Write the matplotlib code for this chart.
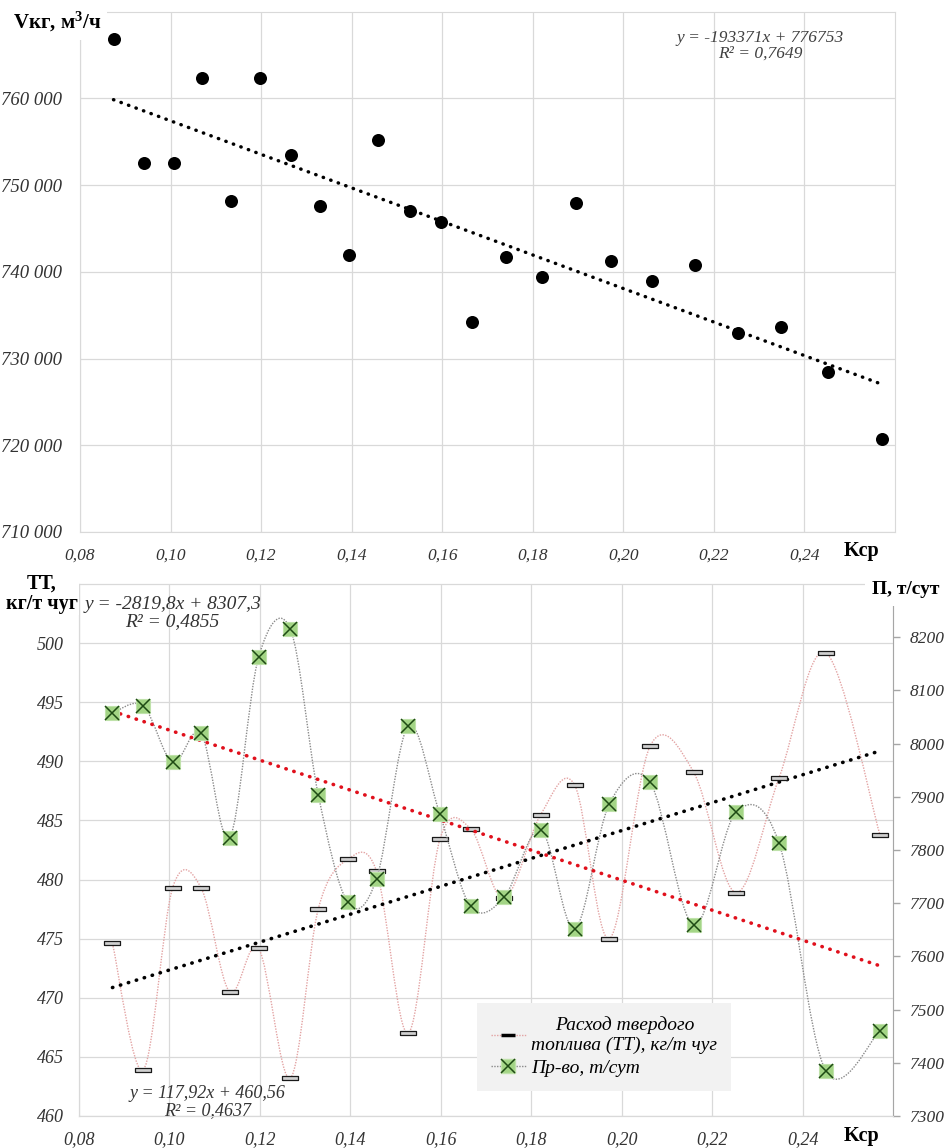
import numpy as np
import matplotlib.pyplot as plt
from matplotlib.path import Path
from matplotlib.patches import PathPatch
from matplotlib.lines import Line2D

plt.rcParams['font.family'] = ['Liberation Serif', 'DejaVu Sans']
plt.rcParams['mathtext.fontset'] = 'custom'
plt.rcParams['mathtext.bf'] = 'Liberation Serif:bold'
plt.rcParams['mathtext.rm'] = 'Liberation Serif'
plt.rcParams['mathtext.default'] = 'bf'

# ---- data ----
k_sr = [0.0874, 0.0942, 0.1007, 0.1070, 0.1133, 0.1197, 0.1267, 0.1329, 0.1394, 0.1458,
        0.1528, 0.1598, 0.1666, 0.1740, 0.1821, 0.1896, 0.1973, 0.2063, 0.2159, 0.2253,
        0.2348, 0.2451, 0.2571]
v_kg = [766900, 752600, 752600, 762300, 748200, 762300, 753500, 747600, 741900, 755200,
        747000, 745800, 734200, 741700, 739400, 747900, 741200, 738900, 740800, 732900,
        733600, 728500, 720700]
tt = [474.6, 463.9, 479.3, 479.3, 470.5, 474.2, 463.2, 477.5, 481.7, 480.7, 467.0, 483.4,
      484.3, 478.4, 485.5, 488.0, 475.0, 491.3, 489.1, 478.9, 488.6, 499.2, 483.8]
prod = [8057, 8071, 7965, 8019, 7823, 8162, 8216, 7904, 7702, 7746, 8033, 7867, 7694,
        7711, 7838, 7652, 7887, 7927, 7659, 7871, 7813, 7385, 7460]

# trend equations shown on the chart
v_trend = (-193371, 776753)
tt_trend = (117.92, 460.56)
prod_trend = (-2819.8, 8307.3)

x_ticks = [0.08, 0.10, 0.12, 0.14, 0.16, 0.18, 0.20, 0.22, 0.24]
v_ticks = [710000, 720000, 730000, 740000, 750000, 760000]
tt_ticks = [460, 465, 470, 475, 480, 485, 490, 495, 500]
prod_ticks = [7300, 7400, 7500, 7600, 7700, 7800, 7900, 8000, 8100, 8200]

W, H = 947, 1148
fig = plt.figure(figsize=(W / 100, H / 100), dpi=100)


def box(x0, y0, x1, y1):
    return [x0 / W, 1 - y1 / H, (x1 - x0) / W, (y1 - y0) / H]


def smooth_path(xs, ys):
    # excel-like smoothed line as cubic bezier segments
    p = np.column_stack([xs, ys])
    ext = np.vstack([p[0], p, p[-1]])
    verts = [p[0]]
    codes = [Path.MOVETO]
    for i in range(len(p) - 1):
        c1 = p[i] + (ext[i + 2] - ext[i]) / 6
        c2 = p[i + 1] - (ext[i + 3] - ext[i + 1]) / 6
        verts += [c1, c2, p[i + 1]]
        codes += [Path.CURVE4] * 3
    return Path(verts, codes)


grid_c = '#d9d9d9'
lab_c = '#333333'
dots = (0, (0.1, 2.2))
xrange_ = np.array([min(k_sr), max(k_sr)])
comma = lambda v, n: f"{v:.{n}f}".replace('.', ',')

# ---------------- top chart ----------------
ax = fig.add_axes(box(80, 11.7, 895, 532))
ax.scatter(k_sr, v_kg, s=88, color='black', zorder=3, linewidths=0)
ax.plot(xrange_, np.polyval(v_trend, xrange_), color='black', lw=2.5,
        linestyle=dots, dash_capstyle='round', zorder=2)
ax.set_xlim(0.08, 0.26)
ax.set_ylim(710000, 770000)
ax.set_xticks(x_ticks)
ax.set_xticklabels([comma(t, 2) for t in x_ticks], fontsize=12.5, style='italic', color=lab_c)
ax.set_yticks(v_ticks)
ax.set_yticklabels([f"{v:,}".replace(',', ' ') for v in v_ticks],
                   fontsize=13.5, style='italic', color=lab_c)
ax.tick_params(length=0, pad=11)
ax.tick_params(axis='y', pad=13)
ax.grid(color=grid_c, lw=0.9)
for s in ax.spines.values():
    s.set_color(grid_c)
ax.text(0.835, 0.965, "y = -193371x + 776753\nR² = 0,7649", transform=ax.transAxes,
        ha='center', va='top', fontsize=12.5, style='italic', color='#404040', linespacing=1.0)

fig.text(13 / W, 1 - 22 / H, "Vкг, м$^{3}$/ч", fontsize=15, fontweight='bold', va='center',
         ha='left', bbox=dict(facecolor='white', edgecolor='none', pad=4))
fig.text(862 / W, 1 - 551 / H, "Kср", fontsize=14.5, fontweight='bold', va='center', ha='center')

# ---------------- bottom chart ----------------
ax1 = fig.add_axes(box(79, 584, 893, 1116))
ax2 = ax1.twinx()

tt_color = '#e3a3a3'
pr_color = '#8a8a8a'
tt_marker = [(-1, -0.2), (1, -0.2), (1, 0.2), (-1, 0.2), (-1, -0.2)]

ax1.add_patch(PathPatch(smooth_path(k_sr, tt), facecolor='none', edgecolor=tt_color,
                        lw=1.0, linestyle=(0, (1, 1)), zorder=2))
ax1.plot(k_sr, tt, linestyle='none', marker=tt_marker, ms=11, mfc='#d0d0d0',
         mec='#1a1a1a', mew=0.9, zorder=4)
ax1.plot(xrange_, np.polyval(tt_trend, xrange_), color='black', lw=2.6,
         linestyle=dots, dash_capstyle='round', zorder=3)

ax2.add_patch(PathPatch(smooth_path(k_sr, prod), facecolor='none', edgecolor=pr_color,
                        lw=1.0, linestyle=(0, (1, 1)), zorder=2))
ax2.plot(k_sr, prod, linestyle='none', marker='s', ms=9.5, mfc='#a3d585', mec='#bfe2aa',
         mew=0.8, zorder=4)
ax2.plot(k_sr, prod, linestyle='none', marker='x', ms=9.5, mec='#1e4a14', mew=1.1, zorder=5)
ax2.plot(xrange_, np.polyval(prod_trend, xrange_), color='#e0101c', lw=2.6,
         linestyle=dots, dash_capstyle='round', zorder=3)

ax1.set_xlim(0.08, 0.26)
ax1.set_ylim(460, 505)
ax2.set_ylim(7300, 8300)
ax1.set_xticks(x_ticks)
ax1.set_xticklabels([comma(t, 2) for t in x_ticks], fontsize=13, style='italic', color=lab_c)
ax1.set_yticks(tt_ticks)
ax1.set_yticklabels([str(v) for v in tt_ticks], fontsize=13, style='italic', color=lab_c)
ax2.set_yticks(prod_ticks)
ax2.set_yticklabels([str(v) for v in prod_ticks], fontsize=12.5, style='italic', color=lab_c)
ax1.tick_params(length=0, pad=11)
ax2.tick_params(axis='y', length=5, width=1, color='#a6a6a6', pad=7, direction='out')
ax1.grid(color=grid_c, lw=0.9)
for a in (ax1, ax2):
    for s in a.spines.values():
        s.set_color(grid_c)
ax2.spines['right'].set_color('#a6a6a6')

ax1.text(0.115, 0.977, "y = -2819,8x + 8307,3\nR² = 0,4855", transform=ax1.transAxes,
         ha='center', va='top', fontsize=14, style='italic', color=lab_c, linespacing=1.0,
         zorder=6)
ax1.text(0.158, 0.058, "y = 117,92x + 460,56\nR² = 0,4637", transform=ax1.transAxes,
         ha='center', va='top', fontsize=13, style='italic', color=lab_c, linespacing=1.0)

h_tt = Line2D([], [], color=tt_color, lw=1.0, linestyle=(0, (1, 1)), marker='_', ms=10,
              mew=2.5, mec='black')
h_sq = Line2D([], [], color=pr_color, lw=1.0, linestyle=(0, (1, 1)), marker='s', ms=9.5,
              mfc='#a3d585', mec='#bfe2aa')
h_x = Line2D([], [], linestyle='none', marker='x', ms=9.5, mec='#1e4a14', mew=1.1)
leg = ax2.legend([h_tt, (h_sq, h_x)],
                 ["Расход твердого\nтоплива (ТТ), кг/т чуг", "Пр-во, т/сут"],
                 loc='upper left', bbox_to_anchor=(477 / W, 1 - 1003 / H),
                 bbox_transform=fig.transFigure, borderaxespad=0, fancybox=False,
                 facecolor='#f2f2f2', edgecolor='none', framealpha=1,
                 prop=dict(family='Liberation Serif', style='italic', size=14),
                 handlelength=1.8, handletextpad=0.3, labelspacing=0.25, borderpad=0.7)
for t in leg.get_texts():
    t.set_multialignment('center')

fig.text(42 / W, 1 - 594 / H, "ТТ,\nкг/т чуг", fontsize=14.5, fontweight='bold', va='center',
         ha='center', linespacing=1.0, bbox=dict(facecolor='white', edgecolor='none', pad=1))
fig.text(906 / W, 1 - 590 / H, "П, т/сут", fontsize=14, fontweight='bold', va='center',
         ha='center', bbox=dict(facecolor='white', edgecolor='none', pad=5))
fig.text(862 / W, 1 - 1136 / H, "Kср", fontsize=14.5, fontweight='bold', va='center', ha='center')

fig.savefig('out.png', dpi=100, facecolor='white')
